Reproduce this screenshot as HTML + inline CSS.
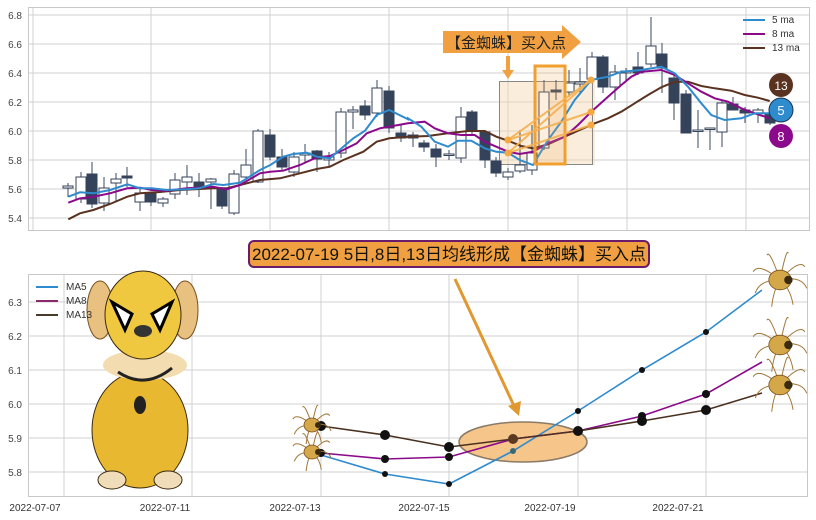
<!DOCTYPE html>
<html><head><meta charset="utf-8">
<style>
html,body{margin:0;padding:0;background:#fff;}
svg{display:block;font-family:"Liberation Sans","Noto Sans CJK SC",sans-serif;}
</style></head>
<body>
<svg id="s" width="816" height="520" viewBox="0 0 816 520" xmlns="http://www.w3.org/2000/svg">
<rect width="816" height="520" fill="#fff"/>
<g stroke="#d0d0d0" stroke-width="1">
<line x1="28" y1="15" x2="810" y2="15"/><line x1="28" y1="44" x2="810" y2="44"/>
<line x1="28" y1="73" x2="810" y2="73"/><line x1="28" y1="102" x2="810" y2="102"/>
<line x1="28" y1="131" x2="810" y2="131"/><line x1="28" y1="160" x2="810" y2="160"/>
<line x1="28" y1="189" x2="810" y2="189"/><line x1="28" y1="218" x2="810" y2="218"/>
<line x1="33" y1="7" x2="33" y2="230"/><line x1="151" y1="7" x2="151" y2="230"/><line x1="270" y1="7" x2="270" y2="230"/>
<line x1="389" y1="7" x2="389" y2="230"/><line x1="508" y1="7" x2="508" y2="230"/><line x1="627" y1="7" x2="627" y2="230"/>
<line x1="746" y1="7" x2="746" y2="230"/>
</g>
<rect x="28.5" y="7.5" width="781" height="223" fill="none" stroke="#c8c8c8"/>
<g font-size="10" fill="#444" text-anchor="end">
<text x="22" y="19">6.8</text><text x="22" y="48">6.6</text><text x="22" y="77">6.4</text><text x="22" y="106">6.2</text>
<text x="22" y="135">6.0</text><text x="22" y="164">5.8</text><text x="22" y="193">5.6</text><text x="22" y="222">5.4</text>
</g>
<rect x="499" y="81" width="96" height="84" fill="#f7d8b0" fill-opacity="0.45"/>
<rect x="499.5" y="81.5" width="93" height="83" fill="none" stroke="#888" stroke-width="1"/>
<g id="candles"></g>
<g id="malines" fill="none" stroke-width="2"></g>
<rect x="535" y="66" width="30" height="98" fill="#f5b060" fill-opacity="0.2" stroke="#f0a030" stroke-width="3"/>
<g stroke="#f5b050" stroke-width="2" opacity="0.9">
<line x1="508" y1="140" x2="591" y2="80"/><line x1="508" y1="153" x2="591" y2="80"/>
<line x1="508" y1="140" x2="591" y2="112"/><line x1="508" y1="153" x2="591" y2="125"/>
</g>
<g fill="#f5a840"><circle cx="508" cy="140" r="3.5"/><circle cx="508" cy="153" r="3.5"/>
<circle cx="591" cy="80" r="3.5"/><circle cx="591" cy="112" r="3.5"/><circle cx="591" cy="125" r="3.5"/></g>
<path d="M443,31 H562 V25 L581,42 L562,59 V53 H443 Z" fill="#f0a040"/>
<text x="446" y="48" font-size="15" fill="#222">【金蜘蛛】买入点</text>
<path d="M506,56 h4 v14 h4 l-6,9 l-6,-9 h4 z" fill="#f0a040"/>
<g font-size="10" fill="#333">
<line x1="743" y1="20" x2="765" y2="20" stroke="#2e8bcd" stroke-width="2"/><text x="772" y="23">5 ma</text>
<line x1="743" y1="34" x2="765" y2="34" stroke="#8b0a8b" stroke-width="2"/><text x="772" y="37">8 ma</text>
<line x1="743" y1="48" x2="765" y2="48" stroke="#5a3220" stroke-width="2"/><text x="772" y="51">13 ma</text>
</g>
<circle cx="781" cy="85" r="12" fill="#5a3220"/><text x="781" y="90" font-size="12" fill="#fff" text-anchor="middle">13</text>
<circle cx="781" cy="110" r="12" fill="#2e8bcd" stroke="#1a3550" stroke-width="1"/><text x="781" y="115" font-size="13" fill="#fff" text-anchor="middle">5</text>
<circle cx="781" cy="136" r="12" fill="#8b0a8b"/><text x="781" y="141" font-size="13" fill="#fff" text-anchor="middle">8</text>

<g stroke="#d0d0d0" stroke-width="1">
<line x1="28" y1="302" x2="808" y2="302"/><line x1="28" y1="336" x2="808" y2="336"/>
<line x1="28" y1="370" x2="808" y2="370"/><line x1="28" y1="404" x2="808" y2="404"/>
<line x1="28" y1="438" x2="808" y2="438"/><line x1="28" y1="472" x2="808" y2="472"/>
<line x1="64" y1="274" x2="64" y2="497"/><line x1="192" y1="274" x2="192" y2="497"/><line x1="321" y1="274" x2="321" y2="497"/>
<line x1="449" y1="274" x2="449" y2="497"/><line x1="578" y1="274" x2="578" y2="497"/><line x1="706" y1="274" x2="706" y2="497"/>
</g>
<rect x="28.5" y="274.5" width="779" height="222" fill="none" stroke="#c8c8c8"/>
<g font-size="10" fill="#444" text-anchor="end">
<text x="22" y="306">6.3</text><text x="22" y="340">6.2</text><text x="22" y="374">6.1</text>
<text x="22" y="408">6.0</text><text x="22" y="442">5.9</text><text x="22" y="476">5.8</text>
</g>
<g font-size="10" fill="#333" text-anchor="middle">
<text x="35" y="511">2022-07-07</text><text x="165" y="511">2022-07-11</text><text x="295" y="511">2022-07-13</text>
<text x="424" y="511">2022-07-15</text><text x="550" y="511">2022-07-19</text><text x="678" y="511">2022-07-21</text>
</g>
<ellipse cx="523" cy="442" rx="64" ry="20" fill="#f5c58a" stroke="#8a7a66" stroke-width="1.5"/>
<polyline points="321,455 385,474 449,484 513,451 578,411 642,370 706,332 762,290" fill="none" stroke="#2e8bcd" stroke-width="1.6"/>
<polyline points="321,453 385,459 449,457 513,439 578,431 642,416 706,394 762,362" fill="none" stroke="#8b0a8b" stroke-width="1.6"/>
<polyline points="321,426 385,435 449,447 513,439 578,431 642,421 706,410 762,393" fill="none" stroke="#4a3020" stroke-width="1.6"/>
<g fill="#111">
<circle cx="321" cy="426" r="5"/><circle cx="385" cy="435" r="5"/><circle cx="449" cy="447" r="5"/><circle cx="513" cy="439" r="5" fill="#5a3a20"/><circle cx="578" cy="431" r="5"/><circle cx="642" cy="421" r="5"/><circle cx="706" cy="410" r="5"/>
<circle cx="321" cy="453" r="4"/><circle cx="385" cy="459" r="4"/><circle cx="449" cy="457" r="4"/><circle cx="642" cy="416" r="4"/><circle cx="706" cy="394" r="4"/>
<circle cx="385" cy="474" r="3"/><circle cx="449" cy="484" r="3"/><circle cx="513" cy="451" r="3" fill="#3a6a7a"/><circle cx="578" cy="411" r="3"/><circle cx="642" cy="370" r="3"/><circle cx="706" cy="332" r="3"/>
</g>
<path d="M455,279 L515,408" stroke="#e09830" stroke-width="3"/>
<path d="M508,406 L519,416 L521,401 Z" fill="#e09830"/>
<g id="spiders"></g>
<g>
<ellipse cx="140" cy="430" rx="48" ry="58" fill="#e8b830" stroke="#3a2a10"/>
<ellipse cx="112" cy="480" rx="14" ry="9" fill="#f0dcb8" stroke="#3a2a10"/>
<ellipse cx="168" cy="480" rx="14" ry="9" fill="#f0dcb8" stroke="#3a2a10"/>
<ellipse cx="145" cy="365" rx="42" ry="15" fill="#f2dcb0"/>
<ellipse cx="100" cy="310" rx="13" ry="29" fill="#e8c080" stroke="#7a5020"/>
<ellipse cx="185" cy="310" rx="13" ry="29" fill="#e8c080" stroke="#7a5020"/>
<ellipse cx="143" cy="315" rx="38" ry="44" fill="#f0c840" stroke="#3a2a10"/>
<path d="M112,302 L132,314 L125,330 Z" fill="#fff" stroke="#000" stroke-width="3"/>
<path d="M172,302 L152,314 L160,330 Z" fill="#fff" stroke="#000" stroke-width="3"/>
<ellipse cx="143" cy="331" rx="9" ry="6" fill="#333"/>
<path d="M118,372 Q145,390 172,368" fill="none" stroke="#222" stroke-width="3"/>
<ellipse cx="140" cy="405" rx="6" ry="9" fill="#222"/>
</g>
<g font-size="10" fill="#333">
<line x1="36" y1="287" x2="58" y2="287" stroke="#2e8bcd" stroke-width="2"/><text x="66" y="290">MA5</text>
<line x1="36" y1="301" x2="58" y2="301" stroke="#8b2a6b" stroke-width="2"/><text x="66" y="304">MA8</text>
<line x1="36" y1="315" x2="58" y2="315" stroke="#4a3a2a" stroke-width="2"/><text x="66" y="318">MA13</text>
</g>
<rect x="249" y="241" width="400" height="26" rx="5" fill="#f0a040" stroke="#6a1b6a" stroke-width="2"/>
<text x="449" y="260" font-size="17" fill="#111" text-anchor="middle">2022-07-19 5日,8日,13日均线形成【金蜘蛛】买入点</text>
</svg>
<script>
var NS="http://www.w3.org/2000/svg";
function el(p,t,a){var e=document.createElementNS(NS,t);for(var k in a)e.setAttribute(k,a[k]);p.appendChild(e);return e;}
var C=[[68,186,188,183,197,0],[81,177,199,172,203,0],[92,174,204,162,208,1],[104,188,203,177,211,0],[116,179,183,173,202,0],[127,176,178,167,187,1],
[140,193,202,188,211,0],[151,193,202,192,206,1],[163,199,203,197,207,0],[175,180,194,173,199,0],[187,177,182,165,195,0],[199,182,188,173,197,1],
[211,179,182,178,209,0],[222,188,206,187,209,1],[234,174,213,170,215,0],[246,165,177,149,180,0],[258,131,182,129,183,0],[270,135,157,129,160,1],
[282,157,167,149,170,1],[294,157,172,152,177,0],[305,153,155,144,163,0],[317,151,159,150,172,1],[329,157,160,152,167,0],[341,112,153,108,158,0],
[353,110,112,106,129,0],[365,106,115,100,120,1],[377,88,113,80,117,0],[389,91,128,86,133,1],[401,133,138,125,142,1],[413,135,138,132,147,1],
[424,143,147,140,152,1],[436,149,157,144,167,1],[449,154,155,150,160,0],[461,117,158,107,163,0],[472,112,131,110,135,1],[485,132,160,130,168,1],
[496,161,173,157,177,1],[508,172,177,168,180,0],[520,165,171,130,173,0],[532,153,170,125,175,0],[544,92,148,80,150,0],[556,90,92,80,100,1],
[569,83,92,70,97,0],[580,82,84,68,93,0],[592,57,79,52,83,0],[603,57,87,55,93,1],[615,72,87,65,100,0],[626,71,73,68,80,0],[638,67,73,52,75,1],
[651,46,64,17,67,0],[662,54,68,43,93,1],[674,78,103,75,120,1],[686,94,133,90,133,1],[698,130,131,110,148,0],[710,128,129,128,150,0],
[722,103,132,100,147,0],[733,104,110,97,110,1],[745,110,113,107,123,1],[758,110,113,108,123,0],[770,113,123,108,125,1]];
var g=document.getElementById("candles");
C.forEach(function(c){
 el(g,"line",{x1:c[0],x2:c[0],y1:c[3],y2:c[4],stroke:"#3a4a60","stroke-width":1});
 var h=Math.max(c[2]-c[1],1.5);
 el(g,"rect",{x:c[0]-5,y:c[1],width:10,height:h,fill:c[5]?"#34425a":"#fff",stroke:"#34425a","stroke-width":1});
});
var m=document.getElementById("malines");
function pts(a,ox){return a.map(function(p){return (ox+p[0]/3).toFixed(1)+","+(p[1]/3).toFixed(1);}).join(" ");}
var b1=[[205,590],[240,577],[280,580],[330,570],[382,553],[420,565],[455,565],[500,570],[560,568],[597,565],[640,552],[670,555],[720,548],[780,510],[811,495],[850,470],[880,462],[920,458],[950,470],[990,475],[1030,440],[1060,415],[1095,392],[1130,345],[1168,330],[1224,358]];
var b2=[[0,355],[40,380],[80,425],[120,440],[150,422],[190,422],[230,445],[265,455],[300,458],[335,480],[375,495],[420,420],[460,365],[500,300],[550,240],[600,230],[640,215],[700,210],[760,200],[800,220],[840,260],[880,310],[910,345],[950,360],[1000,355],[1040,340],[1085,340]];
var p1=[[205,608],[240,595],[280,590],[330,580],[382,565],[420,563],[455,570],[500,572],[560,565],[640,560],[680,568],[720,555],[780,520],[811,515],[850,512],[900,495],[950,472],[990,468],[1030,450],[1070,430],[1100,400],[1140,385],[1224,370]];
var p2=[[0,370],[50,365],[80,385],[120,400],[160,405],[200,405],[230,425],[265,440],[300,455],[335,462],[375,455],[420,430],[470,410],[510,375],[550,335],[600,290],[640,255],[670,230],[700,215],[760,210],[800,225],[840,250],[880,275],[920,295],[960,305],[1000,325],[1040,340],[1085,355]];
var r1=[[205,658],[240,640],[280,630],[330,612],[382,590],[420,580],[480,576],[540,570],[600,567],[640,565],[680,565],[720,555],[780,540],[840,535],[900,520],[950,507],[990,500],[1030,480],[1090,455],[1130,425],[1168,415],[1224,410]];
var r2=[[0,410],[60,408],[120,400],[180,393],[230,393],[265,410],[300,422],[340,438],[375,445],[420,433],[470,410],[510,392],[560,370],[600,355],[640,335],[680,310],[720,285],[760,262],[800,245],[840,245],[880,258],[920,265],[970,272],[1010,285],[1050,293],[1085,303]];
el(m,"polyline",{points:pts(r1,0)+" "+pts(r2,408),stroke:"#5a3220"});
el(m,"polyline",{points:pts(p1,0)+" "+pts(p2,408),stroke:"#8b0a8b"});
el(m,"polyline",{points:pts(b1,0)+" "+pts(b2,408),stroke:"#2e8bcd"});
var sp=document.getElementById("spiders");
[[312,425,10],[312,452,10],[780,280,14],[780,345,14],[780,385,14]].forEach(function(s){
 for(var i=0;i<8;i++){var a=i*Math.PI/4+0.3;
  el(sp,"path",{d:"M"+s[0]+","+s[1]+" q"+(Math.cos(a)*s[2]*1.6)+","+(Math.sin(a)*s[2]*1.6-s[2]*0.8)+" "+(Math.cos(a)*s[2]*2)+","+(Math.sin(a)*s[2]*2),fill:"none",stroke:"#a07838","stroke-width":1});}
 el(sp,"ellipse",{cx:s[0],cy:s[1],rx:s[2]*0.8,ry:s[2]*0.7,fill:"#d4a848",stroke:"#7a5020","stroke-width":0.8});
 el(sp,"circle",{cx:s[0]+s[2]*0.6,cy:s[1],r:s[2]*0.3,fill:"#3a2a10"});
});
</script>
</body></html>
